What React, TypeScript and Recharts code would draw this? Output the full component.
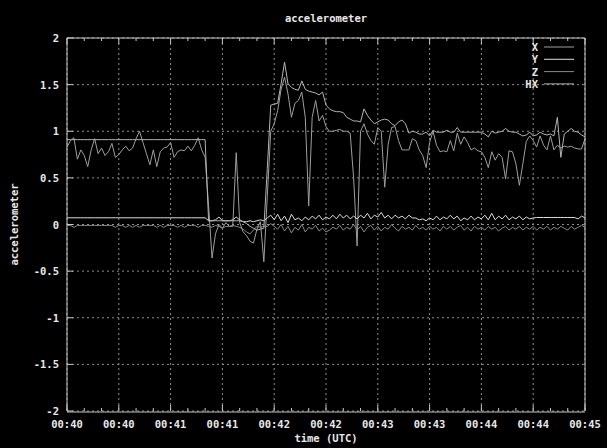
import React from 'react';
import { LineChart, Line, XAxis, YAxis, CartesianGrid } from 'recharts';

const W = 607;
const H = 448;
const PLOT = { left: 67, right: 585, top: 38, bottom: 411 };
const FONT = "'DejaVu Sans Mono', 'Liberation Mono', monospace";
const FRAME = '#c8c8c8';
const TEXT = '#e8e8e8';

// seconds since 00:40:00, one sample every 2 s
const TIMES = Array.from({ length: 151 }, (_, i) => i * 2);

const X_TICKS = [0, 30, 60, 90, 120, 150, 180, 210, 240, 270, 300];
const X_TICK_LABELS = ['00:40', '00:40', '00:41', '00:41', '00:42', '00:42', '00:43', '00:43', '00:44', '00:44', '00:45'];
const MINOR_TICKS = Array.from({ length: 31 }, (_, i) => i * 10);
const Y_TICKS = [-2, -1.5, -1, -0.5, 0, 0.5, 1, 1.5, 2];

const X_VALS = [
  0.83, 0.90, 0.93, 0.70, 0.80, 0.74, 0.62, 0.80, 0.92, 0.76,
  0.82, 0.74, 0.78, 0.87, 0.72, 0.75, 0.80, 0.84, 0.79, 0.82,
  0.92, 1.00, 0.88, 0.76, 0.64, 0.80, 0.62, 0.78, 0.82, 0.83,
  0.88, 0.72, 0.78, 0.80, 0.79, 0.84, 0.79, 0.85, 0.93, 0.80,
  0.72, 0.20, -0.36, -0.10, 0.00, -0.04, 0.02, -0.02, -0.02, 0.77,
  0.02, -0.08, -0.12, -0.18, -0.20, -0.05, 0.03, -0.40, 0.30, 1.00,
  1.08, 1.22, 1.45, 1.58, 1.40, 1.15, 1.30, 1.33, 1.42, 1.15,
  0.20, 1.15, 1.33, 1.11, 1.17, 1.05, 1.00, 1.00, 1.01, 1.02,
  1.00, 1.00, 0.98, 0.50, -0.23, 1.00, 1.08, 0.97, 0.90, 0.86,
  1.04, 1.00, 0.40, 0.86, 1.04, 1.05, 0.90, 0.80, 0.80, 0.80,
  0.92, 0.90, 0.80, 0.74, 0.61, 0.88, 1.00, 0.85, 0.78, 0.79,
  0.78, 0.90, 0.79, 0.98, 0.86, 0.94, 0.88, 0.80, 0.82, 0.79,
  0.78, 0.72, 0.61, 0.78, 0.69, 0.76, 0.72, 0.49, 0.79, 0.78,
  0.65, 0.42, 0.65, 0.89, 0.95, 0.90, 0.83, 0.95, 0.85, 0.80,
  0.95, 0.80, 0.85, 0.82, 0.84, 0.83, 0.84, 0.82, 0.81, 0.81,
  0.92,
];

const Y_VALS = [
  0.072, 0.072, 0.072, 0.072, 0.072, 0.072, 0.072, 0.072, 0.072, 0.072,
  0.072, 0.072, 0.072, 0.072, 0.072, 0.072, 0.072, 0.072, 0.072, 0.072,
  0.072, 0.072, 0.072, 0.072, 0.072, 0.072, 0.072, 0.072, 0.072, 0.072,
  0.072, 0.072, 0.072, 0.072, 0.072, 0.072, 0.072, 0.072, 0.072, 0.072,
  0.072, 0.04, 0.04, 0.05, 0.08, 0.04, 0.04, 0.04, 0.05, 0.08,
  0.05, 0.03, 0.03, 0.04, 0.03, 0.04, 0.05, 0.04, 0.07, 0.10,
  0.05, 0.11, 0.04, 0.09, 0.02, 0.11, 0.05, 0.07, 0.04, 0.08,
  0.05, 0.09, 0.06, 0.10, 0.05, 0.08, 0.06, 0.10, 0.06, 0.11,
  0.07, 0.10, 0.06, 0.09, 0.06, 0.10, 0.07, 0.12, 0.06, 0.10,
  0.08, 0.13, 0.07, 0.10, 0.06, 0.10, 0.07, 0.09, 0.06, 0.10,
  0.07, 0.07, 0.05, 0.06, 0.04, 0.07, 0.05, 0.09, 0.05, 0.08,
  0.06, 0.10, 0.06, 0.09, 0.04, 0.07, 0.05, 0.09, 0.05, 0.08,
  0.06, 0.10, 0.05, 0.12, 0.05, 0.09, 0.06, 0.10, 0.05, 0.08,
  0.06, 0.09, 0.05, 0.08, 0.06, 0.07, 0.075, 0.075, 0.075, 0.075,
  0.075, 0.075, 0.075, 0.075, 0.075, 0.075, 0.075, 0.075, 0.06, 0.09,
  0.07,
];

const Z_VALS = [
  -0.01, -0.01, -0.03, -0.01, -0.01, -0.01, -0.01, -0.01, -0.01, -0.01,
  -0.01, -0.01, -0.01, -0.01, -0.03, -0.01, -0.01, -0.03, -0.01, -0.03,
  -0.01, -0.03, -0.01, -0.01, -0.01, -0.01, -0.03, -0.01, -0.03, -0.01,
  -0.01, -0.01, -0.03, -0.01, -0.03, -0.01, -0.01, -0.01, -0.03, -0.01,
  -0.01, -0.02, -0.03, -0.01, -0.02, -0.04, -0.02, -0.02, -0.01, -0.02,
  -0.03, -0.05, -0.08, -0.10, -0.06, -0.02, -0.03, -0.02, -0.02, 0.01,
  -0.02, -0.05, 0.00, -0.07, -0.02, -0.09, -0.03, -0.06, 0.00, -0.08,
  -0.03, -0.05, -0.01, -0.07, -0.04, -0.08, -0.06, -0.03, -0.05, -0.01,
  -0.06, -0.03, -0.05, 0.00, -0.06, -0.02, -0.08, -0.03, -0.01, -0.06,
  -0.02, -0.07, -0.03, -0.05, 0.00, -0.04, -0.07, -0.02, -0.05, -0.03,
  -0.06, -0.01, -0.05, -0.03, -0.06, -0.02, -0.05, -0.03, -0.07, -0.02,
  -0.05, -0.02, -0.06, -0.03, -0.01, -0.06, -0.03, -0.07, -0.02, -0.05,
  -0.03, -0.06, -0.02, -0.05, -0.03, -0.07, -0.04, -0.02, -0.06, -0.03,
  -0.05, -0.02, -0.06, -0.03, -0.05, -0.02, -0.06, -0.03, -0.05, -0.02,
  -0.06, -0.03, -0.05, -0.02, -0.04, -0.06, -0.02, -0.05, -0.03, -0.01,
  -0.03,
];

const HX_VALS = [
  0.91, 0.91, 0.91, 0.91, 0.91, 0.91, 0.91, 0.91, 0.91, 0.91,
  0.91, 0.91, 0.91, 0.91, 0.91, 0.91, 0.91, 0.91, 0.91, 0.91,
  0.91, 0.91, 0.91, 0.91, 0.91, 0.91, 0.91, 0.91, 0.91, 0.91,
  0.91, 0.91, 0.91, 0.91, 0.91, 0.91, 0.91, 0.91, 0.91, 0.91,
  0.91, 0.04, 0.04, 0.04, 0.04, 0.04, 0.04, 0.04, 0.04, 0.04,
  0.04, 0.03, 0.01, -0.02, -0.04, -0.06, -0.05, -0.04, 0.60, 1.28,
  1.29, 1.30, 1.51, 1.74, 1.51, 1.47, 1.45, 1.44, 1.54, 1.45,
  1.43, 1.42, 1.41, 1.39, 1.42, 1.28, 1.24, 1.22, 1.21, 1.21,
  1.20, 1.15, 1.13, 1.11, 1.11, 1.10, 1.24, 1.17, 1.12, 1.08,
  1.10, 1.12, 1.13, 1.12, 1.08, 1.06, 1.10, 1.12, 1.08, 0.98,
  1.00, 0.99, 0.97, 0.97, 0.99, 0.95, 1.01, 0.99, 0.99, 0.99,
  1.01, 0.99, 0.99, 1.04, 0.99, 0.99, 0.99, 0.99, 0.99, 0.99,
  0.99, 0.97, 0.94, 1.00, 0.98, 0.99, 1.00, 1.03, 1.00, 0.99,
  0.99, 0.97, 0.95, 0.96, 0.99, 0.95, 0.96, 0.99, 0.97, 0.96,
  0.97, 0.95, 1.15, 0.72, 0.97, 1.00, 1.03, 1.00, 0.99, 0.96,
  0.94,
];

const SERIES = [
  { key: 'X', color: '#9e9e9e' },
  { key: 'Y', color: '#dedede' },
  { key: 'Z', color: '#8a8a8a' },
  { key: 'HX', color: '#b4b4b4' },
];

const data = TIMES.map((t, i) => ({
  t,
  X: X_VALS[i],
  Y: Y_VALS[i],
  Z: Z_VALS[i],
  HX: HX_VALS[i],
}));

const txt = { fontFamily: FONT, fontSize: 10.5, fontWeight: 700, fill: TEXT } as const;

// tick marks point into the plot, like gnuplot
const BottomTick = (props: any) => {
  const { x, payload } = props;
  const i = X_TICKS.indexOf(payload.value);
  const y = PLOT.bottom;
  return (
    <g>
      <line x1={x} x2={x} y1={y} y2={y - 6} stroke={FRAME} />
      <text x={x} y={y + 17} textAnchor="middle" {...txt}>{X_TICK_LABELS[i]}</text>
    </g>
  );
};

const MinorBottomTick = (props: any) => {
  const { x, payload } = props;
  if (payload.value % 30 === 0) return <g />;
  return <line x1={x} x2={x} y1={PLOT.bottom} y2={PLOT.bottom - 3} stroke={FRAME} />;
};

const TopTick = (props: any) => {
  const { x, payload } = props;
  const len = payload.value % 30 === 0 ? 6 : 3;
  return <line x1={x} x2={x} y1={PLOT.top} y2={PLOT.top + len} stroke={FRAME} />;
};

const LeftTick = (props: any) => {
  const { y, payload } = props;
  const x = PLOT.left;
  return (
    <g>
      <line x1={x} x2={x + 6} y1={y} y2={y} stroke={FRAME} />
      <text x={x - 8} y={y + 4} textAnchor="end" {...txt}>{String(payload.value)}</text>
    </g>
  );
};

const RightTick = (props: any) => {
  const { y } = props;
  return <line x1={PLOT.right} x2={PLOT.right - 6} y1={y} y2={y} stroke={FRAME} />;
};

export default function App() {
  return (
    <div style={{ position: 'absolute', left: 0, top: 0, width: W, height: H, background: '#000' }}>
      <LineChart
        width={W}
        height={H}
        data={data}
        margin={{ top: PLOT.top - 1, right: W - PLOT.right - 1, bottom: H - PLOT.bottom - 2, left: PLOT.left - 1 }}
      >
        <CartesianGrid stroke="#8e8e8e" strokeDasharray="2 3" />
        <XAxis
          xAxisId="minor"
          dataKey="t"
          type="number"
          domain={[0, 300]}
          ticks={MINOR_TICKS}
          height={1}
          tickSize={0}
          tickMargin={0}
          tickLine={false}
          axisLine={{ stroke: FRAME }}
          tick={MinorBottomTick}
          interval={0}
        />
        <XAxis
          dataKey="t"
          type="number"
          domain={[0, 300]}
          ticks={X_TICKS}
          height={1}
          tickSize={0}
          tickMargin={0}
          tickLine={false}
          axisLine={false}
          tick={BottomTick}
          interval={0}
        />
        <XAxis
          xAxisId="top"
          orientation="top"
          dataKey="t"
          type="number"
          domain={[0, 300]}
          ticks={MINOR_TICKS}
          height={1}
          tickSize={0}
          tickMargin={0}
          tickLine={false}
          axisLine={{ stroke: FRAME }}
          tick={TopTick}
          interval={0}
        />
        <YAxis
          type="number"
          domain={[-2, 2]}
          ticks={Y_TICKS}
          width={1}
          tickSize={0}
          tickMargin={0}
          tickLine={false}
          axisLine={{ stroke: FRAME }}
          tick={LeftTick}
          interval={0}
        />
        <YAxis
          yAxisId="right"
          orientation="right"
          type="number"
          domain={[-2, 2]}
          ticks={Y_TICKS}
          width={1}
          tickSize={0}
          tickMargin={0}
          tickLine={false}
          axisLine={{ stroke: FRAME }}
          tick={RightTick}
          interval={0}
        />
        {SERIES.map((s) => (
          <Line
            key={s.key}
            dataKey={s.key}
            name={s.key}
            type="linear"
            stroke={s.color}
            strokeWidth={1}
            dot={false}
            isAnimationActive={false}
          />
        ))}
      </LineChart>
      <svg
        width={W}
        height={H}
        style={{ position: 'absolute', left: 0, top: 0, pointerEvents: 'none' }}
      >
        <text x={(PLOT.left + PLOT.right) / 2} y={22} textAnchor="middle" {...txt}>
          accelerometer
        </text>
        <text
          x={18}
          y={(PLOT.top + PLOT.bottom) / 2}
          textAnchor="middle"
          transform={`rotate(-90 18 ${(PLOT.top + PLOT.bottom) / 2})`}
          {...txt}
        >
          accelerometer
        </text>
        <text x={(PLOT.left + PLOT.right) / 2} y={442} textAnchor="middle" {...txt}>
          time (UTC)
        </text>
        {SERIES.map((s, i) => {
          const y = 47 + i * 12.3;
          return (
            <g key={s.key}>
              <text x={538} y={y + 4} textAnchor="end" {...txt}>{s.key}</text>
              <line x1={544} x2={574} y1={y} y2={y} stroke={s.color} />
            </g>
          );
        })}
      </svg>
    </div>
  );
}
